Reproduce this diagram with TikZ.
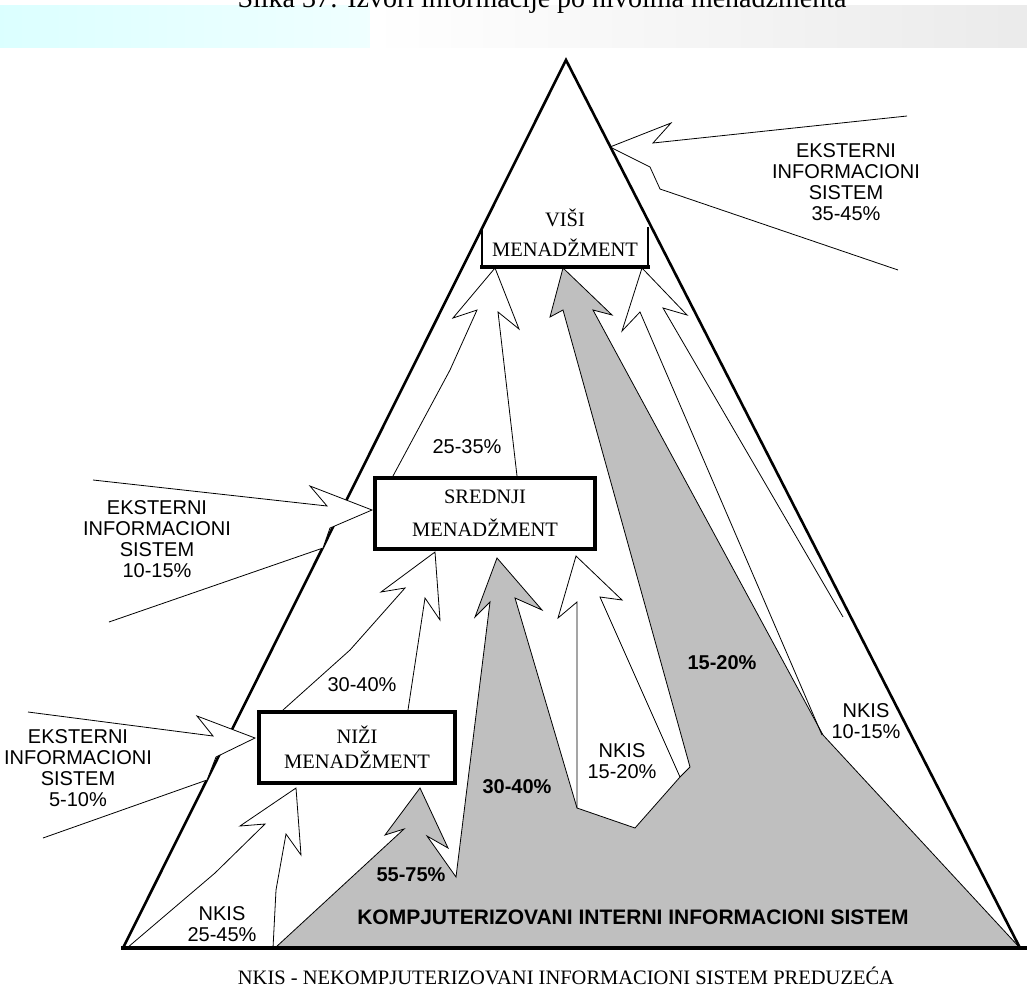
\documentclass[tikz,border=0pt]{standalone}
\usepackage{fontspec}
\setmainfont{Liberation Serif}
\setsansfont{Liberation Sans}
\begin{document}
\begin{tikzpicture}[x=1pt,y=-1pt,
    edge/.style={line width=2.6pt,line join=miter},
    flow/.style={line width=0.8pt,line join=miter},
    mgmt/.style={draw,line width=3.5pt,inner sep=0pt,align=center,font=\fontsize{20.5}{25}\selectfont},
    lbl/.style={inner sep=0pt,align=center,font=\sffamily\fontsize{20}{20.8}\selectfont},
    blbl/.style={lbl,font=\sffamily\bfseries\fontsize{20}{20.8}\selectfont}]
    \useasboundingbox (0,0) rectangle (1027,990);
    \clip (0,0) rectangle (1027,990);
    \fill[left color=cyan!14,right color=cyan!6] (0,6) rectangle (370,48);
    \fill[left color=white,right color=black!8] (370,6) rectangle (1027,48);
    \node[anchor=base,inner sep=0pt,font=\fontsize{28}{30}\selectfont] (title) at (542,8) {Slika 37: Izvori informacije po nivoima menadžmenta};

    \fill[black!25] (275,948) -- (404,829) -- (385,835) -- (420,788) -- (448,848) -- (427,836) -- (456,877)
        -- (490,602) -- (475,617) -- (497,558) -- (542,610) -- (515,598) -- (577,808) -- (635,828)
        -- (680,777) -- (690,767) -- (563,310) -- (550,317) -- (563,268) -- (612,315) -- (593,310)
        -- (823,735) -- (1020,948) -- cycle;
    \draw[flow] (275,948) -- (404,829) -- (385,835) -- (420,788) -- (448,848) -- (427,836) -- (456,877)
        -- (490,602) -- (475,617) -- (497,558) -- (542,610) -- (515,598) -- (577,808) -- (635,828)
        -- (680,777) -- (690,767) -- (563,310) -- (550,317) -- (563,268) -- (612,315) -- (593,310)
        -- (823,735) -- (1020,948);
    \draw[flow] (577,808) -- (577,602) -- (558,618) -- (576,556) -- (622,600) -- (600,597) -- (680,777);
    \draw[flow] (822,735) -- (640,312) -- (622,331) -- (642,268) -- (687,315) -- (663,308) -- (843,617);
    \draw[flow] (393,476) -- (450,370) -- (477,310) -- (453,318) -- (495,268) -- (519,329) -- (498,312) -- (517,476);
    \draw[flow] (283,710) -- (350,650) -- (405,588) -- (381,592) -- (435,552) -- (440,620) -- (425,598) -- (408,710);
    \draw[flow] (127,948) -- (215,873) -- (265,824) -- (240,826) -- (296,788) -- (301,855) -- (286,834) -- (276,890) -- (273,948);

    \draw[edge] (123,948) -- (566,60) -- (1020,948);
    \draw[line width=3.6pt] (121,948) -- (1027,948);

    \fill[white] (93,480) -- (327,506) -- (310,486) -- (372,510) -- (330,528) -- (323,548) -- (109,622) -- cycle;
    \draw[flow] (93,480) -- (327,506) -- (310,486) -- (372,510) -- (330,528) -- (323,548) -- (109,622);
    \fill[white] (28,712) -- (213,736) -- (197,716) -- (255,738) -- (216,757) -- (207,780) -- (43,838) -- cycle;
    \draw[flow] (28,712) -- (213,736) -- (197,716) -- (255,738) -- (216,757) -- (207,780) -- (43,838);
    \draw[flow] (907,116) -- (653,143) -- (671,123) -- (610,147) -- (650,167) -- (660,189) -- (898,270);

    \node[inner sep=0pt,align=center,font=\fontsize{20.5}{30}\selectfont] (visi) at (565,233) {VIŠI\\MENADŽMENT};
    \draw[line width=1.3pt] (482,227) -- (482,267);
    \draw[line width=1.3pt] (648,227) -- (648,267);
    \draw[line width=4pt] (480,267) -- (650,267);
    \node[mgmt,minimum width=220pt,minimum height=71pt] (sred) at (485,513.5) {SREDNJI\\[8pt]MENADŽMENT};
    \node[mgmt,minimum width=196pt,minimum height=71pt] (nizi) at (357,747.5) {NIŽI\\MENADŽMENT};

    \node[lbl] (ext1) at (846,182) {EKSTERNI\\INFORMACIONI\\SISTEM\\35-45\%};
    \node[lbl] (ext2) at (157,539) {EKSTERNI\\INFORMACIONI\\SISTEM\\10-15\%};
    \node[lbl] (ext3) at (78,768) {EKSTERNI\\INFORMACIONI\\SISTEM\\5-10\%};
    \node[lbl] (p2535) at (467,447) {25-35\%};
    \node[lbl] (p3040) at (362,685) {30-40\%};
    \node[blbl] (k3040) at (517,787) {30-40\%};
    \node[blbl] (k1520) at (722,663) {15-20\%};
    \node[blbl] (k5575) at (411,875) {55-75\%};
    \node[lbl] (n1520) at (622,761) {NKIS\\15-20\%};
    \node[lbl] (n1015) at (866,721) {NKIS\\10-15\%};
    \node[lbl] (n2545) at (222,924) {NKIS\\25-45\%};
    \node[blbl,font=\sffamily\bfseries\fontsize{21}{22}\selectfont] (kiis) at (633,917) {KOMPJUTERIZOVANI INTERNI INFORMACIONI SISTEM};
    \node[inner sep=0pt,font=\fontsize{20.5}{22}\selectfont] (foot) at (566,976) {NKIS - NEKOMPJUTERIZOVANI INFORMACIONI SISTEM PREDUZEĆA};
\end{tikzpicture}
\end{document}
